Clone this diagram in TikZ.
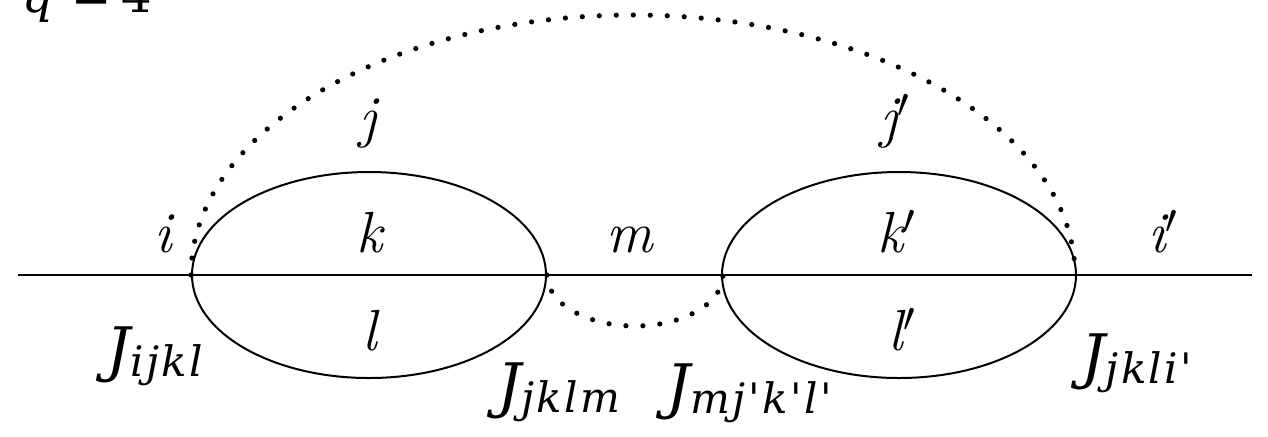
\documentclass[tikz,border=0pt]{standalone}
\usepackage{fontspec}
\usetikzlibrary{shapes.geometric}
\newfontfamily\camfont{DejaVu Serif}
\newfontfamily\camsubfont[LetterSpace=6]{DejaVu Serif}
\newcommand{\Jlab}[1]{{\camfont\itshape\fontsize{30}{34}\selectfont J\raisebox{-3pt}{\camsubfont\itshape\fontsize{21}{24}\selectfont #1}}}
\tikzset{
  lab/.style={font=\fontsize{29}{34}\selectfont\itshape, inner sep=0pt, anchor=base},
  jlab/.style={inner sep=0pt, anchor=base west},
  loop/.style={draw, ellipse, line width=1pt, minimum width=177pt, minimum height=103pt, inner sep=0pt},
  dots/.style={line width=2.6pt, dash pattern=on 0pt off 8.5pt, line cap=round},
  base/.style={line width=1pt}
}
\begin{document}
\begin{tikzpicture}[x=0.5pt,y=0.5pt]
\useasboundingbox (0,0) rectangle (1268,-436);
\coordinate (A) at (18,-275);
\coordinate (B) at (1252,-275);
\draw[base] (A) -- (B);
\node[loop] (L) at (369,-275) {};
\node[loop] (R) at (899,-275) {};
\draw[dots] (L.west) arc[start angle=180, end angle=2, x radius=221pt, y radius=130pt];
\draw[dots] (L.east) arc[start angle=180, end angle=360, x radius=44pt, y radius=25.5pt];
% labels
\node[lab] (li) at (163,-252) {i};
\node[lab] (lk) at (370,-252) {k};
\node[lab] (lm) at (630,-252) {m};
\node[lab] (lkp) at (897,-252) {k$'$};
\node[lab] (lip) at (1163,-252) {i$'$};
\node[lab] (lj) at (368,-136) {j};
\node[lab] (ljp) at (895,-136) {j$'$};
\node[lab] (ll) at (370,-350) {l};
\node[lab] (llp) at (902,-350) {l$'$};
\node[jlab] (J1) at (106,-370) {\Jlab{ijkl}};
\node[jlab] (J2) at (497,-406) {\Jlab{jklm}};
\node[jlab] (J3) at (666,-407) {\Jlab{mj'k'l'}};
\node[jlab] (J4) at (1081,-377) {\Jlab{jkli'}};
\node[jlab] (q) at (22,-12) {\camfont\fontsize{24}{28}\selectfont\itshape q\upshape\hspace{9pt}=\hspace{5pt}4};
\end{tikzpicture}
\end{document}
